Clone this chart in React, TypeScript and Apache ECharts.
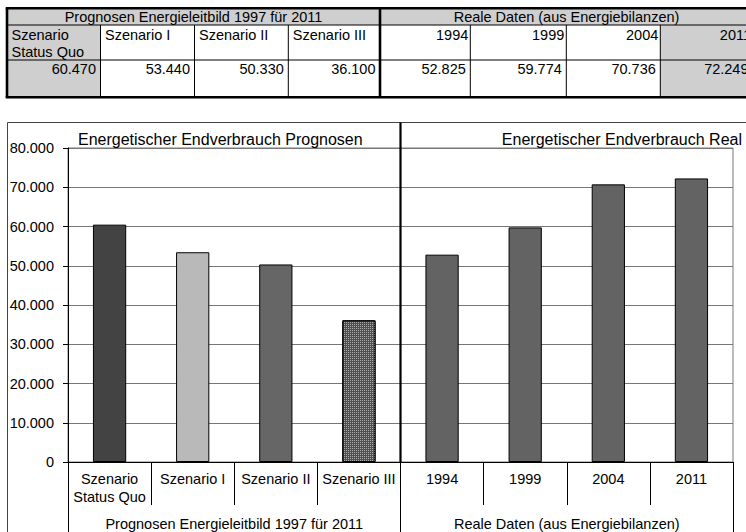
import React, { useEffect, useRef } from "react";
import * as echarts from "echarts";

const categories = [
  "Szenario\nStatus Quo",
  "Szenario I",
  "Szenario II",
  "Szenario III",
  "1994",
  "1999",
  "2004",
  "2011",
];
const values = [60470, 53440, 50330, 36100, 52825, 59774, 70736, 72249];
const groups = ["Prognosen Energieleitbild 1997 für 2011", "Reale Daten (aus Energiebilanzen)"];
const titles = ["Energetischer Endverbrauch Prognosen", "Energetischer Endverbrauch Real"];
const yMax = 80000;
const yStep = 10000;

const barColors = ["#434343", "#b9b9b9", "#666666", "#4e4e4e", "#636363", "#636363", "#636363", "#636363"];
const FONT = "'Liberation Sans', Arial, Helvetica, sans-serif";

function fmt(v: number): string {
  if (v === 0) return "0";
  const k = Math.floor(v / 1000);
  const r = v % 1000;
  return k + "." + String(r).padStart(3, "0");
}

// table layout (pixel edges of columns)
const colX = [7, 100.5, 194.5, 288.3, 380, 470.3, 566.3, 660.3, 753];

export default function App() {
  const ref = useRef<HTMLDivElement>(null);
  useEffect(() => {
    if (!ref.current) return;
    const chart = echarts.init(ref.current, null, { renderer: "svg" });
    const option: any = {
      animation: false,
      backgroundColor: "#fff",
      textStyle: { fontFamily: FONT },
      grid: {
        left: 68,
        right: 13,
        top: 148,
        bottom: 70,
        show: true,
        borderColor: "#777",
        borderWidth: 1,
        backgroundColor: "transparent",
      },
      xAxis: [
        {
          type: "category",
          data: categories,
          gridIndex: 0,
          axisLine: { show: true, lineStyle: { color: "#000", width: 1 } },
          axisTick: { show: true, interval: 0, alignWithLabel: false, length: 43, lineStyle: { color: "#000", width: 1 } },
          axisLabel: { interval: 0, color: "#000", fontSize: 14.5, lineHeight: 18, margin: 8, fontFamily: FONT },
          splitLine: { show: false },
        },
        {
          type: "category",
          data: groups,
          gridIndex: 0,
          position: "bottom",
          offset: 43,
          axisLine: { show: false },
          axisTick: { show: true, interval: 0, alignWithLabel: false, length: 40, lineStyle: { color: "#000", width: 1 } },
          axisLabel: { interval: 0, color: "#000", fontSize: 14.5, margin: 11, fontFamily: FONT },
          splitLine: { show: false },
        },
      ],
      yAxis: {
        type: "value",
        min: 0,
        max: yMax,
        interval: yStep,
        axisLine: { show: true, lineStyle: { color: "#000", width: 1 } },
        axisTick: { show: true, length: 5, lineStyle: { color: "#000" } },
        axisLabel: { color: "#000", fontSize: 14.5, margin: 14, formatter: (v: number) => fmt(v), fontFamily: FONT },
        splitLine: { show: true, lineStyle: { color: "#777", width: 1 } },
      },
      series: [
        {
          type: "bar",
          xAxisIndex: 0,
          barWidth: "40%",
          data: values.map((v, i) => ({
            value: v,
            itemStyle: {
              color: barColors[i],
              borderColor: "#000",
              borderWidth: 1,
              decal:
                i === 3
                  ? {
                      symbol: "rect",
                      symbolSize: 1,
                      color: "rgba(255,255,255,0.55)",
                      dashArrayX: [1, 1],
                      dashArrayY: [1, 1],
                      rotation: 0,
                    }
                  : undefined,
            },
          })),
        },
      ],
    };
    chart.setOption(option);

    const x3 = chart.convertToPixel({ xAxisIndex: 0 }, 3) as number;
    const x4 = chart.convertToPixel({ xAxisIndex: 0 }, 4) as number;
    const sepX = (x3 + x4) / 2;
    const y0 = chart.convertToPixel({ yAxisIndex: 0 }, 0) as number;
    const yTopPlot = chart.convertToPixel({ yAxisIndex: 0 }, yMax) as number;

    const g: any[] = [];
    const tTop = 8.3;
    const tHead = 25;
    const tRow = 60;
    const tBot = 97.3;
    const right = 770;
    // table fills
    g.push({ type: "rect", shape: { x: 7, y: tTop, width: right - 7, height: tHead - tTop }, style: { fill: "#cfcfcf" }, z: 10 });
    g.push({ type: "rect", shape: { x: colX[0], y: tHead, width: colX[1] - colX[0], height: tBot - tHead }, style: { fill: "#cfcfcf" }, z: 10 });
    g.push({ type: "rect", shape: { x: colX[7], y: tHead, width: right - colX[7], height: tBot - tHead }, style: { fill: "#cfcfcf" }, z: 10 });
    // thin lines
    const thin = { stroke: "#000", lineWidth: 1 };
    g.push({ type: "line", shape: { x1: 7, y1: tHead, x2: right, y2: tHead }, style: thin, z: 11 });
    g.push({ type: "line", shape: { x1: 7, y1: tRow, x2: right, y2: tRow }, style: thin, z: 11 });
    [1, 2, 3, 5, 6, 7].forEach((c) => {
      g.push({ type: "line", shape: { x1: colX[c], y1: tHead, x2: colX[c], y2: tBot }, style: thin, z: 11 });
    });
    const thick = { stroke: "#000", lineWidth: 2.6 };
    g.push({ type: "line", shape: { x1: 5.7, y1: tTop, x2: right, y2: tTop }, style: thick, z: 12 });
    g.push({ type: "line", shape: { x1: 5.7, y1: tBot, x2: right, y2: tBot }, style: thick, z: 12 });
    g.push({ type: "line", shape: { x1: 7, y1: tTop, x2: 7, y2: tBot }, style: thick, z: 12 });
    g.push({ type: "line", shape: { x1: colX[4], y1: tTop, x2: colX[4], y2: tBot }, style: thick, z: 12 });
    // table texts
    const tf = { fontSize: 14.5, fontFamily: FONT, fill: "#000" };
    g.push({ type: "text", x: (colX[0] + colX[4]) / 2, y: 17, style: { ...tf, text: groups[0], align: "center", verticalAlign: "middle" }, z: 13 });
    g.push({ type: "text", x: (colX[4] + colX[8]) / 2, y: 17, style: { ...tf, text: groups[1], align: "center", verticalAlign: "middle" }, z: 13 });
    categories.forEach((c, i) => {
      const isYear = i >= 4;
      g.push({
        type: "text",
        x: isYear ? colX[i + 1] - 2 : colX[i] + 4.5,
        y: 26.5,
        style: { ...tf, text: c, align: isYear ? "right" : "left", verticalAlign: "top", lineHeight: 17 },
        z: 13,
      });
      g.push({
        type: "text",
        x: colX[i + 1] - 4.5,
        y: 69,
        style: { ...tf, text: fmt(values[i]), align: "right", verticalAlign: "middle" },
        z: 13,
      });
    });
    // chart outer border
    g.push({ type: "rect", shape: { x: 7.5, y: 122.5, width: 800, height: 500 }, style: { fill: "none", stroke: "#444", lineWidth: 1 }, z: 5 });
    // separator
    g.push({ type: "line", shape: { x1: sepX, y1: 122.5, x2: sepX, y2: y0 }, style: { stroke: "#000", lineWidth: 2.2 }, z: 100 });
    // titles
    g.push({ type: "text", x: 78, y: yTopPlot - 9, style: { text: titles[0], fontSize: 16, fontFamily: FONT, fill: "#000", align: "left", verticalAlign: "middle" }, z: 101 });
    g.push({ type: "text", x: 742, y: yTopPlot - 9, style: { text: titles[1], fontSize: 16, fontFamily: FONT, fill: "#000", align: "right", verticalAlign: "middle" }, z: 101 });

    chart.setOption({ graphic: g });
    return () => chart.dispose();
  }, []);
  return <div ref={ref} style={{ position: "absolute", left: 0, top: 0, width: 746, height: 532, background: "#fff" }} />;
}
